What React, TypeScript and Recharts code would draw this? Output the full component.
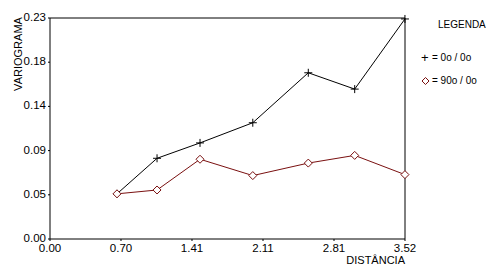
import React from 'react'
import { LineChart, Line, XAxis, YAxis, ReferenceLine } from 'recharts'

const distances = [0.664, 1.061, 1.487, 2.01, 2.56, 3.02, 3.518]
const serie0 = [0.047, 0.084, 0.1, 0.121, 0.173, 0.156, 0.229]
const serie90 = [0.047, 0.051, 0.083, 0.066, 0.079, 0.087, 0.067]
const xTicks = [0, 0.7037, 1.4074, 2.1112, 2.8149, 3.5186]
const yTicks = [0, 0.046, 0.092, 0.138, 0.184, 0.23]

const data = distances.map((d, i) => ({ d, a: serie0[i], b: serie90[i] }))

const FONT = '"Liberation Sans", Arial, sans-serif'
const RED = '#7a1010'

const Cross = (props: any) => {
    const { cx, cy } = props
    if (cx == null || cy == null) return null
    return <path d={`M${cx - 4},${cy}H${cx + 4}M${cx},${cy - 4}V${cy + 4}`} stroke='#000' strokeWidth={1} />
}

const Diamond = (props: any) => {
    const { cx, cy } = props
    if (cx == null || cy == null) return null
    return <path d={`M${cx},${cy - 4}L${cx + 4},${cy}L${cx},${cy + 4}L${cx - 4},${cy}Z`} stroke={RED} fill='#fff' strokeWidth={1} />
}

const LegendBox = () => (
    <div style={{ position: 'absolute', left: 421, top: 19, width: 65, fontFamily: FONT, fontSize: 10, color: '#000', lineHeight: '12px' }}>
        <div style={{ marginLeft: 17 }}>LEGENDA</div>
        <div style={{ marginTop: 21, display: 'flex', alignItems: 'center' }}>
            <span style={{ fontSize: 13, width: 9, display: 'inline-block' }}>+</span>
            <span style={{ marginLeft: 2 }}>= 0o / 0o</span>
        </div>
        <div style={{ marginTop: 11, display: 'flex', alignItems: 'center' }}>
            <svg width={9} height={10}><path d='M4.5,1.5L8,5L4.5,8.5L1,5Z' stroke={RED} fill='#fff' /></svg>
            <span style={{ marginLeft: 2 }}>= 90o / 0o</span>
        </div>
    </div>
)

const App = () => {
    return (
        <div style={{ position: 'absolute', left: 0, top: 0, width: 486, height: 270, background: '#fff' }}>
            <LineChart width={486} height={270} data={data} margin={{ top: 18, right: 81, bottom: 0, left: 0 }}>
                <XAxis
                    dataKey='d'
                    type='number'
                    domain={[0, 3.5186]}
                    ticks={xTicks}
                    tickFormatter={(v) => v.toFixed(2)}
                    stroke='#000'
                    tickSize={2}
                    tickMargin={3}
                    height={31}
                    tick={{ fill: '#000', fontSize: 11.5, fontFamily: FONT }}
                    label={{
                        content: (p: any) => (
                            <text x={p.viewBox.x + p.viewBox.width} y={264} textAnchor='end' fontSize={11} fontFamily={FONT} fill='#000'>DISTÂNCIA</text>
                        ),
                    }}
                />
                <YAxis
                    type='number'
                    domain={[0, 0.23]}
                    ticks={yTicks}
                    tickFormatter={(v) => v.toFixed(2)}
                    stroke='#000'
                    tickSize={2}
                    width={50}
                    tick={{ fill: '#000', fontSize: 11.5, fontFamily: FONT, dy: -1 }}
                    label={{
                        content: () => (
                            <text x={22} y={54} transform='rotate(-90 22 54)' textAnchor='middle' fontSize={11} fontFamily={FONT} fill='#000'>VARIOGRAMA</text>
                        ),
                    }}
                />
                <ReferenceLine y={0.23} stroke='#000' />
                <ReferenceLine x={3.5186} stroke='#000' />
                <Line dataKey='a' stroke='#000' strokeWidth={1} dot={<Cross />} activeDot={false} isAnimationActive={false} />
                <Line dataKey='b' stroke={RED} strokeWidth={1} dot={<Diamond />} activeDot={false} isAnimationActive={false} />
            </LineChart>
            <LegendBox />
        </div>
    )
}

export default App
